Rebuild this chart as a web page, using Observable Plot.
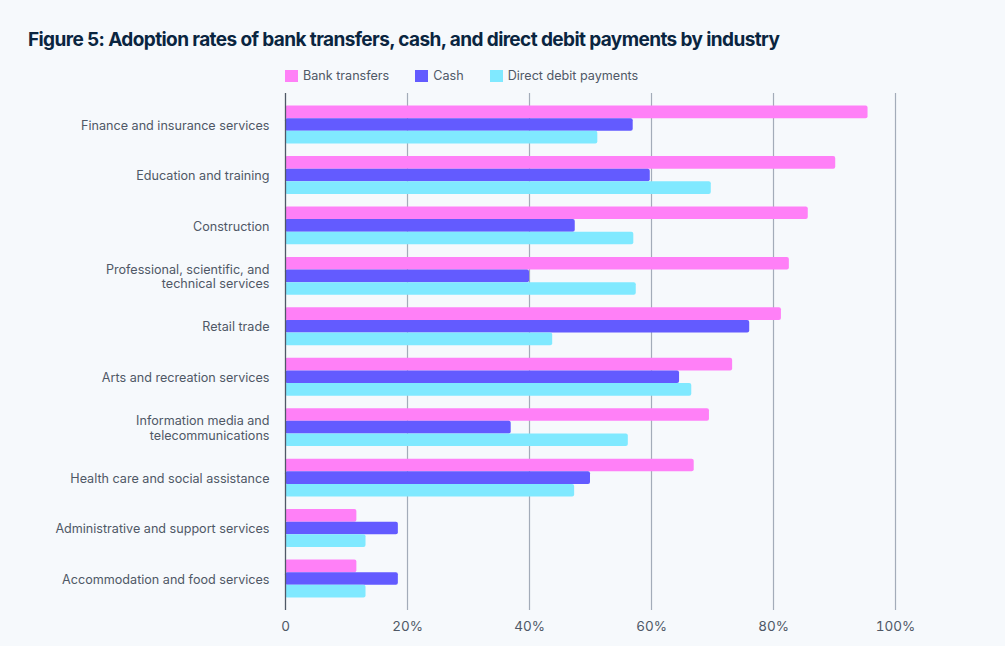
<!DOCTYPE html>
<html>
<head>
<meta charset="utf-8">
<script src="https://cdn.jsdelivr.net/npm/d3@7"></script>
<script src="https://cdn.jsdelivr.net/npm/@observablehq/plot@0.6"></script>
<style>
  html, body { margin: 0; padding: 0; background: #f6f9fc; }
  body { width: 1005px; height: 646px; position: relative; overflow: hidden; font-family: Inter, "Noto Sans", sans-serif; }
  #title { position: absolute; left: 28px; top: 28px; font-size: 19px; font-weight: 700; color: #0a2540; letter-spacing: -0.6px; white-space: nowrap; }
  #legend { position: absolute; left: 285px; top: 68px; display: flex; align-items: center; font-size: 12.6px; color: #4f5866; }
  #legend .item { display: flex; align-items: center; margin-right: 26px; }
  #legend .sw { width: 13px; height: 12px; margin-right: 5px; }
  #chart { position: absolute; left: 0; top: 86px; }
</style>
</head>
<body>
<div id="title">Figure 5: Adoption rates of bank transfers, cash, and direct debit payments by industry</div>
<div id="legend"></div>
<div id="chart"></div>
<script>
const industries = [
  "Finance and insurance services",
  "Education and training",
  "Construction",
  "Professional, scientific, and\ntechnical services",
  "Retail trade",
  "Arts and recreation services",
  "Information media and\ntelecommunications",
  "Health care and social assistance",
  "Administrative and support services",
  "Accommodation and food services"
];
const series = ["Bank transfers", "Cash", "Direct debit payments"];
const colors = ["#ff80f7", "#635bff", "#80e9ff"];
const bankTransfers = [95.5, 90.2, 85.7, 82.6, 81.3, 73.3, 69.5, 67.0, 11.7, 11.7];
const cash          = [57.0, 59.8, 47.5, 40.0, 76.1, 64.6, 37.0, 50.0, 18.5, 18.5];
const directDebit   = [51.2, 69.8, 57.1, 57.5, 43.8, 66.6, 56.2, 47.4, 13.2, 13.2];
const xTicks = [0, 20, 40, 60, 80, 100];

const values = [bankTransfers, cash, directDebit];
const data = [];
industries.forEach((ind, i) => {
  series.forEach((s, j) => data.push({industry: ind, series: s, key: ind + "|" + j, value: values[j][i]}));
});
const yDomain = ["__start"];
industries.forEach(ind => { yDomain.push(ind + "|0", ind + "|1", ind + "|2", ind + "|gap"); });

// legend
const legend = document.getElementById("legend");
series.forEach((s, j) => {
  const it = document.createElement("div");
  it.className = "item";
  it.innerHTML = `<span class="sw" style="background:${colors[j]}"></span><span>${s}</span>`;
  legend.appendChild(it);
});

const fmtX = d => d === 0 ? "0" : d + "%";
const yTicks = industries.map(ind => ind + "|1");

const chart = Plot.plot({
  width: 1005,
  height: 560,
  marginLeft: 285,
  marginRight: 110,
  marginTop: 7,
  marginBottom: 36,
  style: {background: "transparent", fontFamily: "Inter, 'Noto Sans', sans-serif", fontSize: "12.6px", color: "#4f5866"},
  x: {domain: [0, 100], ticks: xTicks, tickFormat: fmtX, tickSize: 0, tickPadding: 11, label: null},
  y: {type: "band", domain: yDomain, padding: 0, round: false, ticks: yTicks, tickFormat: d => d.split("|")[0], tickSize: 0, tickPadding: 16, label: null},
  color: {domain: series, range: colors},
  marks: [
    Plot.ruleX(xTicks.filter(d => d > 0), {stroke: "#a3acb9", strokeWidth: 1.2}),
    Plot.barX(data, {x: "value", y: "key", fill: "series", rx: 2}),
    Plot.ruleX([0], {stroke: "#4f5866", strokeWidth: 1.3}),
    Plot.axisX({ticks: xTicks, tickFormat: fmtX, tickSize: 0, tickPadding: 11, fontSize: 13.5, label: null}),
    Plot.axisY({ticks: yTicks, tickFormat: d => d.split("|")[0], tickSize: 0, tickPadding: 16, fontSize: 12.6, lineHeight: 1.15, label: null})
  ]
});
document.getElementById("chart").appendChild(chart);
</script>
</body>
</html>
